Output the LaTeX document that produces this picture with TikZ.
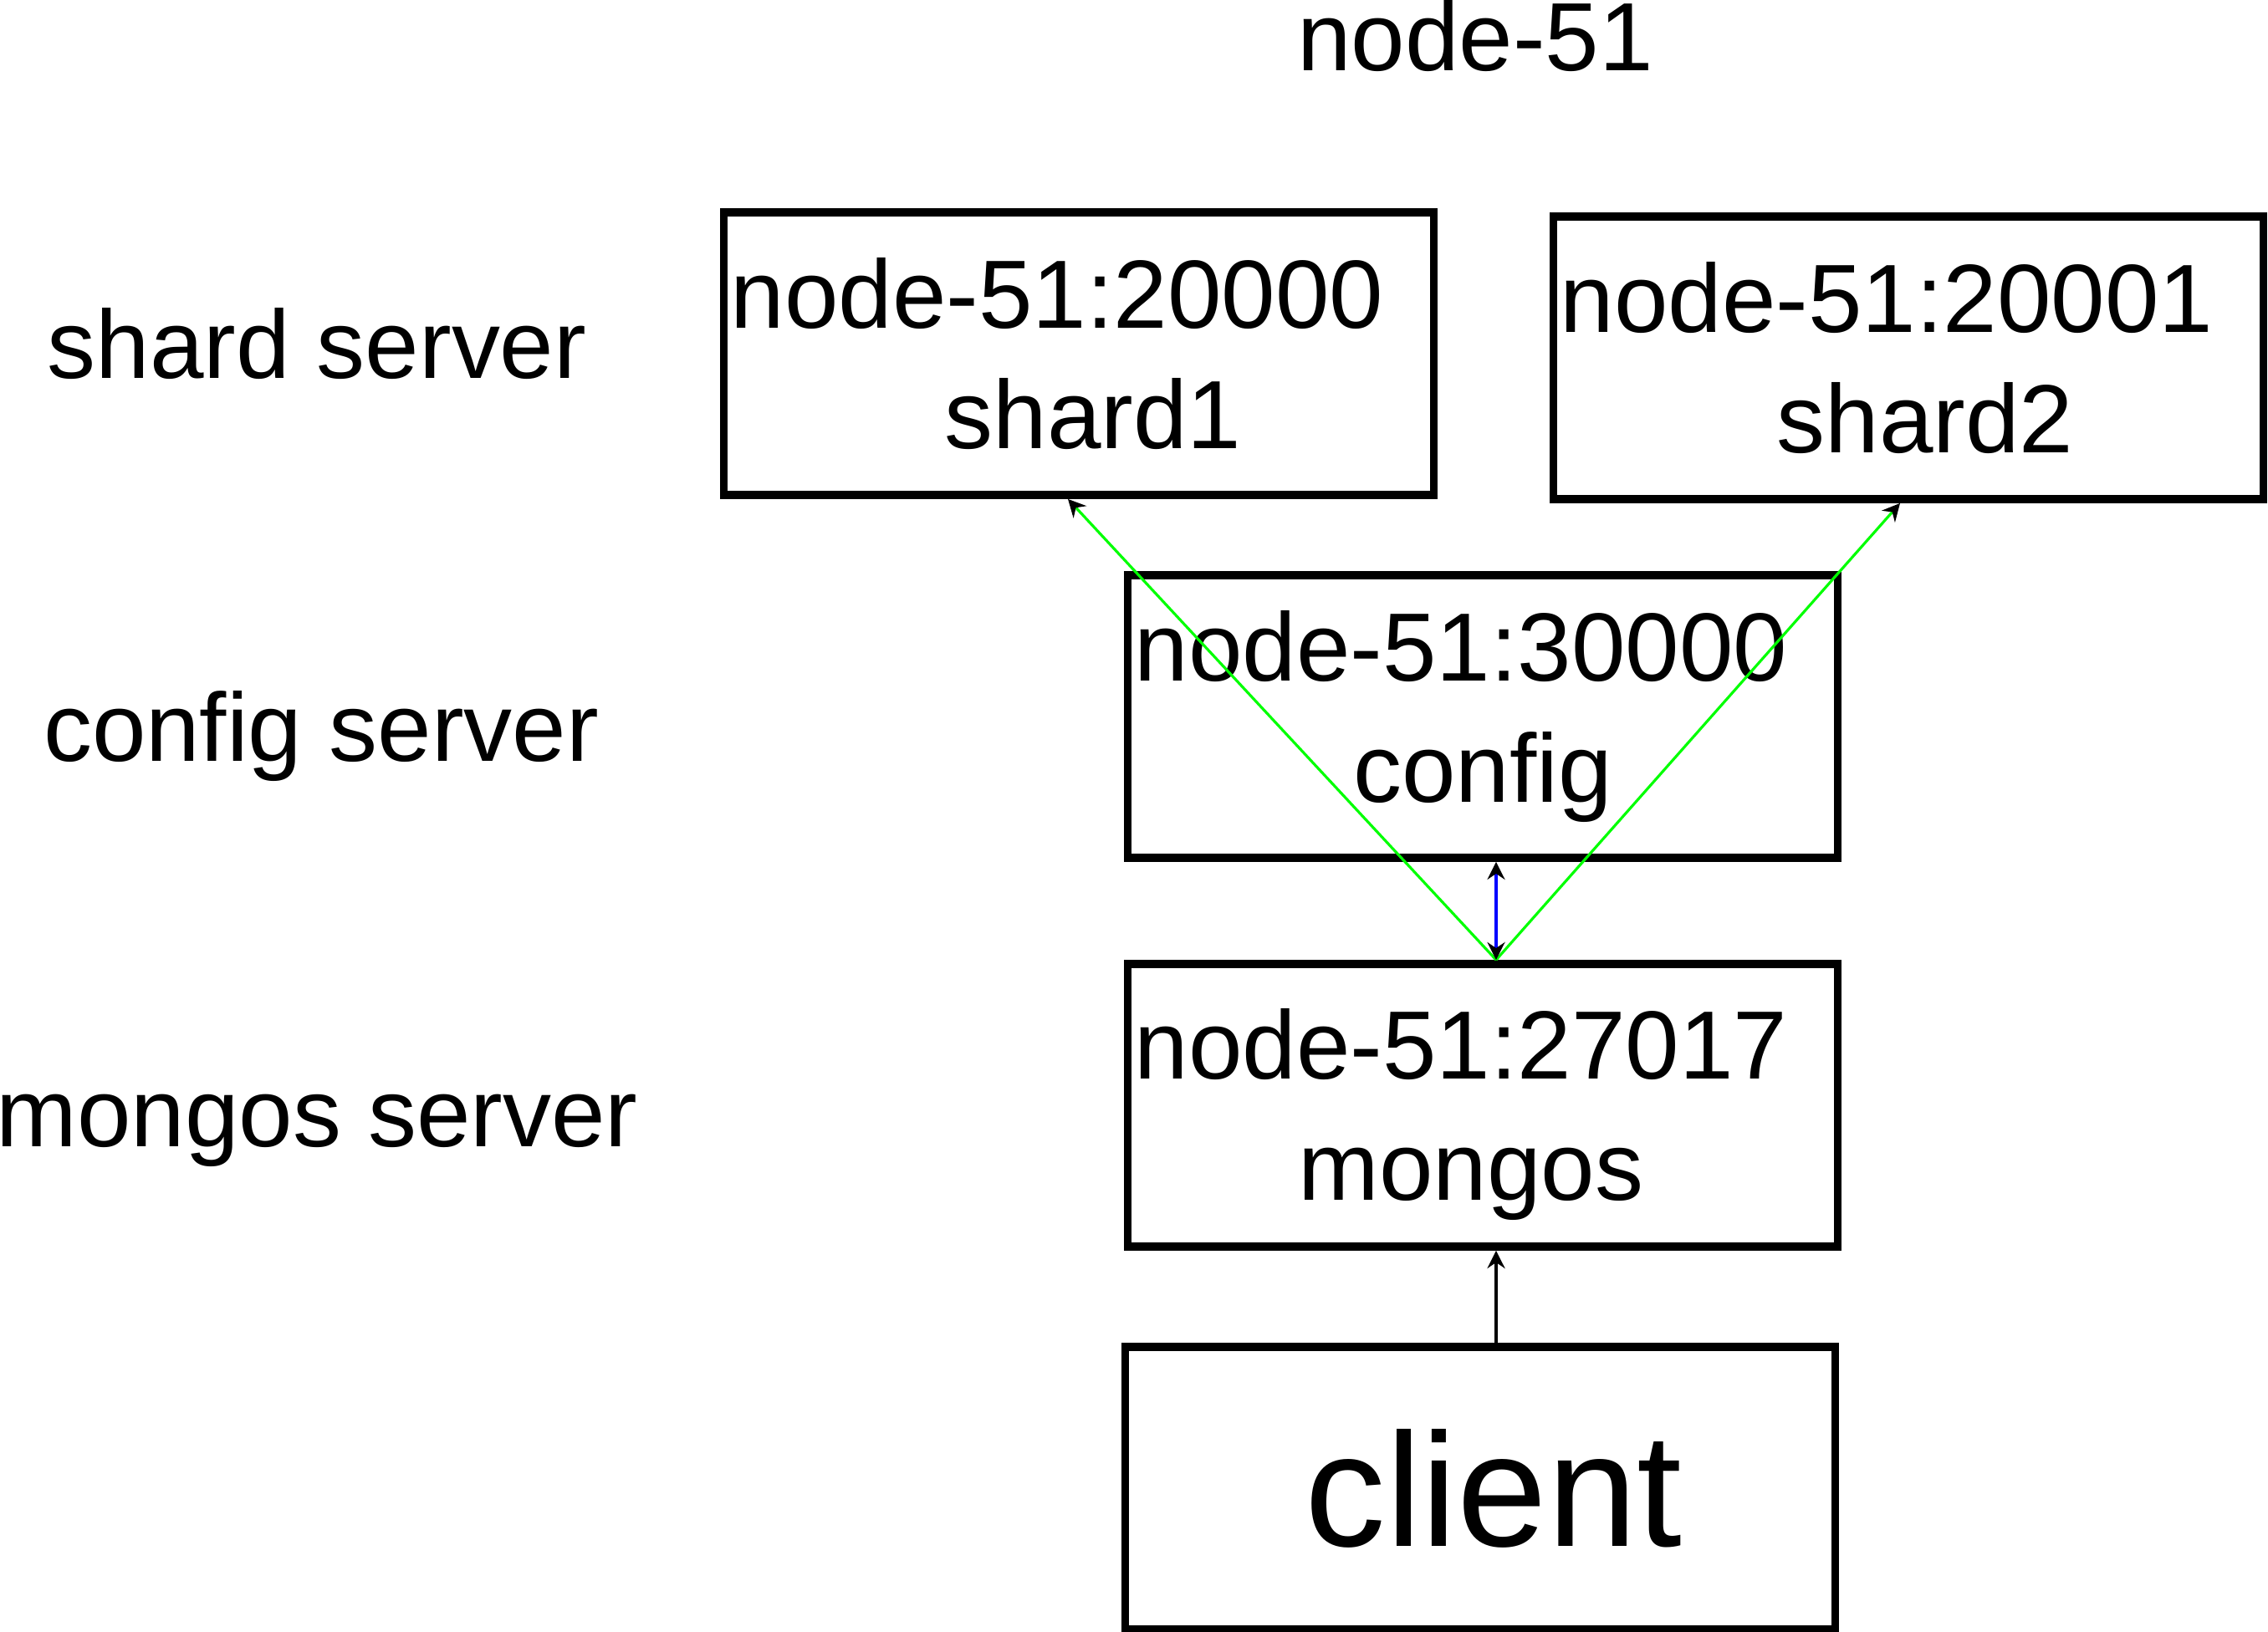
\documentclass[tikz,border=0pt]{standalone}
\usepackage{fontspec}
\setmainfont{Liberation Sans}
\usetikzlibrary{arrows.meta}
\tikzset{server box/.style={draw,line width=2.8pt,minimum width=8.49cm,minimum height=3.38cm,
		align=center,inner sep=0pt,font=\fontsize{33}{41}\selectfont},
	layer label/.style={anchor=base,font=\fontsize{33}{41}\selectfont},
	tip/.style={-{Stealth[length=6pt,width=6pt,inset=2pt,black]}},
	link/.style={tip,draw=green,line width=0.9pt}}

\begin{document}
\begin{tikzpicture}
\useasboundingbox (0,0) rectangle (27.12,-19.52);
\node [layer label] (host) at (17.64,-0.85) {node-51};
\node [layer label] (lshard) at (3.79,-4.53) {shard server};
\node [layer label] (lconfig) at (3.84,-9.11) {config server};
\node [layer label] (lmongos) at (3.79,-13.72) {mongos server};
\node [server box] (s1) at (12.90,-4.23) {node-51:20000\hspace*{0.52cm}\\\hspace*{0.34cm}shard1};
\node [server box] (s2) at (22.82,-4.28) {node-51:20001\hspace*{0.52cm}\\\hspace*{0.4cm}shard2};
\node [server box] (config) at (17.73,-8.57) {node-51:30000\hspace*{0.52cm}\\config};
\node [server box] (mongos) at (17.73,-13.22) {\raisebox{-0.11cm}[\height][\depth]{node-51:27017}\hspace*{0.52cm}\\\raisebox{-0.11cm}[\height][\depth]{mongos}\hspace*{0.28cm}};
\node [server box,font=\fontsize{55}{66}\selectfont] (client) at (17.70,-17.80) {\hspace*{0.32cm}client};
\draw [link] ([xshift=0.16cm]mongos.north) -- ([xshift=-0.13cm]s1.south);
\draw [link] ([xshift=0.16cm]mongos.north) -- ([xshift=-0.10cm]s2.south);
\draw [{Stealth[length=6pt,width=6pt,inset=2pt,black]}-{Stealth[length=6pt,width=6pt,inset=2pt,black]},draw=blue,line width=0.9pt]
  ([xshift=0.16cm]config.south) -- ([xshift=0.16cm]mongos.north);
\draw [tip,line width=1.1pt] ([xshift=0.19cm]client.north) -- ([xshift=0.16cm]mongos.south);
\end{tikzpicture}
\end{document}
